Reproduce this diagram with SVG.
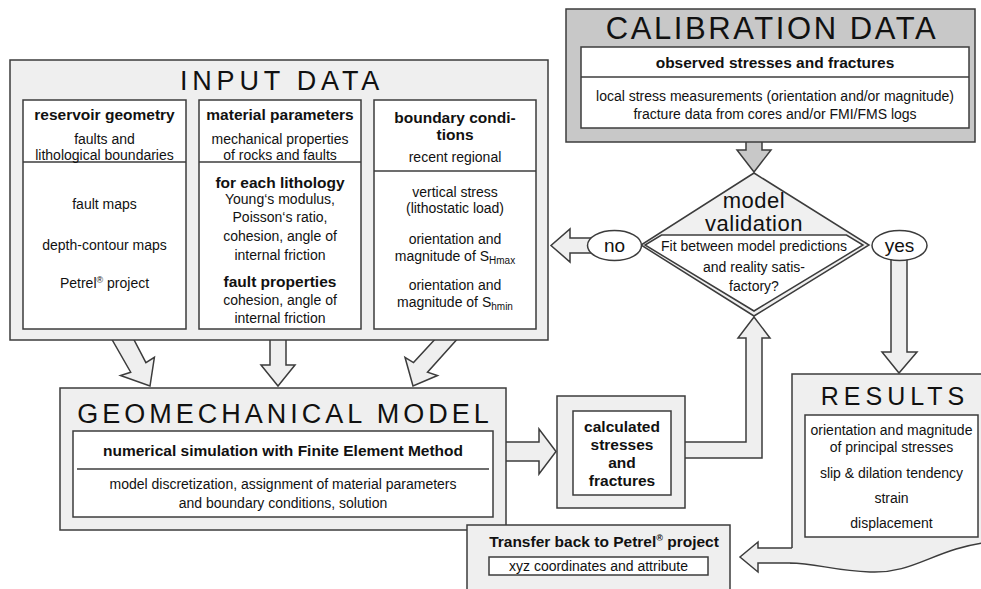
<svg xmlns="http://www.w3.org/2000/svg" width="981" height="589" viewBox="0 0 981 589">
<style>
text{font-family:"Liberation Sans",Arial,sans-serif;fill:#111;text-anchor:middle}
.r{font-size:14px}
.b{font-size:15.5px;font-weight:bold}
.t{font-size:27px;letter-spacing:4.8px}
.box{fill:#efefef;stroke:#3c3c3c;stroke-width:1.5}
.w{fill:#fff;stroke:#3c3c3c;stroke-width:1.5}
.arr{fill:#efefef;stroke:#3c3c3c;stroke-width:1.5;stroke-linejoin:miter}
.ln{stroke:#3c3c3c;stroke-width:1.5;fill:none}
.sub{font-size:10px}
.sup{font-size:9px}
</style>
<rect width="981" height="589" fill="#fff"/>
<g id="connectors">
<polygon class="arr" points="110,336 132,336 145.9,362.6 154.4,357.3 150,386 120.5,375.5 130.7,372.2"/>
<polygon class="arr" points="270,336 286,336 286,365 295,365 278,386 261,365 270,365"/>
<polygon class="arr" points="438,336 460,336 427.5,372.2 437.5,375.5 413,386 405,357.3 413.5,362.6"/>
<polygon class="arr" style="fill:#c8c8c8" points="746,138 762,138 762,150 771,150 754,172 737,150 746,150"/>
<polygon class="arr" points="592,238 570,238 570,229 551,245.5 570,262 570,253 592,253"/>
<polygon class="arr" points="891,255 907,255 907,352 917,352 899,373 882,352 891,352"/>
<polygon class="arr" points="680,442 746,442 746,338 738,338 754,317 770,338 762,338 762,458 680,458"/>
<polygon class="arr" points="500,442 539,442 539,429 556,451.5 539,474 539,461 500,461"/>
<polygon class="arr" points="800,548 758,548 758,542 740,557 758,572 758,563 800,563"/>
</g>
<g id="input-data">
<rect class="box" x="10" y="60" width="538" height="280"/>
<text class="t" x="282" y="90">INPUT DATA</text>
<g id="reservoir-geometry">
<rect class="w" x="23" y="100" width="163" height="229"/>
<line class="ln" x1="23" y1="162" x2="186" y2="162"/>
<text class="b" x="104.5" y="120">reservoir geometry</text>
<text class="r" x="104.5" y="144">faults and</text>
<text class="r" x="104.5" y="160">lithological boundaries</text>
<text class="r" x="104.5" y="209">fault maps</text>
<text class="r" x="104.5" y="250">depth-contour maps</text>
<text class="r" x="104.5" y="288">Petrel<tspan class="sup" baseline-shift="5">®</tspan> project</text>
</g>
<g id="material-parameters">
<rect class="w" x="199" y="100" width="162" height="229"/>
<line class="ln" x1="199" y1="162" x2="361" y2="162"/>
<text class="b" x="280" y="120">material parameters</text>
<text class="r" x="280" y="144">mechanical properties</text>
<text class="r" x="280" y="160">of rocks and faults</text>
<text class="b" x="280" y="188">for each lithology</text>
<text class="r" x="280" y="204">Young‘s modulus,</text>
<text class="r" x="280" y="222">Poisson‘s ratio,</text>
<text class="r" x="280" y="241">cohesion, angle of</text>
<text class="r" x="280" y="260">internal friction</text>
<text class="b" x="280" y="287">fault properties</text>
<text class="r" x="280" y="305">cohesion, angle of</text>
<text class="r" x="280" y="323">internal friction</text>
</g>
<g id="boundary-conditions">
<rect class="w" x="374" y="100" width="162" height="229"/>
<line class="ln" x1="374" y1="171" x2="536" y2="171"/>
<text class="b" x="455" y="123">boundary condi-</text>
<text class="b" x="455" y="140">tions</text>
<text class="r" x="455" y="162">recent regional</text>
<text class="r" x="455" y="197">vertical stress</text>
<text class="r" x="455" y="213">(lithostatic load)</text>
<text class="r" x="455" y="244">orientation and</text>
<text class="r" x="455" y="261">magnitude of S<tspan class="sub" baseline-shift="-3">Hmax</tspan></text>
<text class="r" x="455" y="290">orientation and</text>
<text class="r" x="455" y="307">magnitude of S<tspan class="sub" baseline-shift="-3">hmin</tspan></text>
</g>
</g>
<g id="calibration-data">
<rect class="box" style="fill:#c8c8c8" x="566" y="9" width="409" height="133"/>
<text class="t" style="font-size:31px;letter-spacing:2.6px" x="772" y="39">CALIBRATION DATA</text>
<rect class="w" x="581" y="47" width="388" height="81"/>
<line class="ln" x1="581" y1="77" x2="969" y2="77"/>
<text class="b" x="775" y="68">observed stresses and fractures</text>
<text class="r" x="775" y="101">local stress measurements (orientation and/or magnitude)</text>
<text class="r" x="775" y="119">fracture data from cores and/or FMI/FMS logs</text>
</g>
<g id="model-validation">
<polygon class="box" style="fill:#f0f0f0" points="754,173 869,245 754,316 641,245"/>
<polygon class="w" points="661.5,235 846.5,235 863,245 754,311 645,245"/>
<text x="754" y="208" style="font-size:22px;letter-spacing:0.5px">model</text>
<text x="754" y="231" style="font-size:22px;letter-spacing:0.5px">validation</text>
<text class="r" x="754" y="251">Fit between model predictions</text>
<text class="r" x="754" y="272">and reality satis-</text>
<text class="r" x="754" y="291">factory?</text>
</g>
<g id="no">
<ellipse class="w" cx="614.5" cy="245.5" rx="27" ry="15"/>
<text x="614.5" y="252" style="font-size:19px">no</text>
</g>
<g id="yes">
<ellipse class="w" cx="899.5" cy="245.5" rx="27.5" ry="15"/>
<text x="899.5" y="252" style="font-size:19px">yes</text>
</g>
<g id="geomechanical-model">
<rect class="box" x="60" y="388" width="446" height="142"/>
<text class="t" style="letter-spacing:4px" x="285" y="423">GEOMECHANICAL MODEL</text>
<rect class="w" x="73" y="431" width="420" height="86"/>
<line class="ln" x1="77" y1="469" x2="489" y2="469"/>
<text class="b" x="283" y="456">numerical simulation with Finite Element Method</text>
<text class="r" x="283" y="489">model discretization, assignment of material parameters</text>
<text class="r" x="283" y="508">and boundary conditions, solution</text>
</g>
<g id="calculated">
<rect class="box" x="557" y="396" width="128" height="112"/>
<rect class="w" x="573" y="411" width="98" height="84"/>
<text class="b" x="622" y="432">calculated</text>
<text class="b" x="622" y="450">stresses</text>
<text class="b" x="622" y="468">and</text>
<text class="b" x="622" y="486">fractures</text>
</g>
<g id="results">
<path fill="#efefef" d="M792,374 H990 V543 C935,548 915,574 870,572 C835,571 815,563 790,563 L792,548 Z"/>
<path class="ln" d="M792,548 V374 H990"/>
<path class="ln" d="M990,542 C935,548 915,574 870,572 C835,571 815,563 790,563"/>
<text class="t" style="font-size:25px;letter-spacing:5px" x="895" y="405">RESULTS</text>
<rect class="w" x="805" y="415" width="173" height="122"/>
<text class="r" x="891.5" y="435">orientation and magnitude</text>
<text class="r" x="891.5" y="452">of principal stresses</text>
<text class="r" x="891.5" y="478">slip &amp; dilation tendency</text>
<text class="r" x="891.5" y="503">strain</text>
<text class="r" x="891.5" y="528">displacement</text>
</g>
<g id="transfer">
<rect class="box" x="467" y="525" width="263" height="80"/>
<text class="b" x="604" y="547">Transfer back to Petrel<tspan class="sup" baseline-shift="6">®</tspan> project</text>
<rect class="w" x="489" y="557" width="219" height="18"/>
<text class="r" x="598.5" y="571">xyz coordinates and attribute</text>
</g>
</svg>
